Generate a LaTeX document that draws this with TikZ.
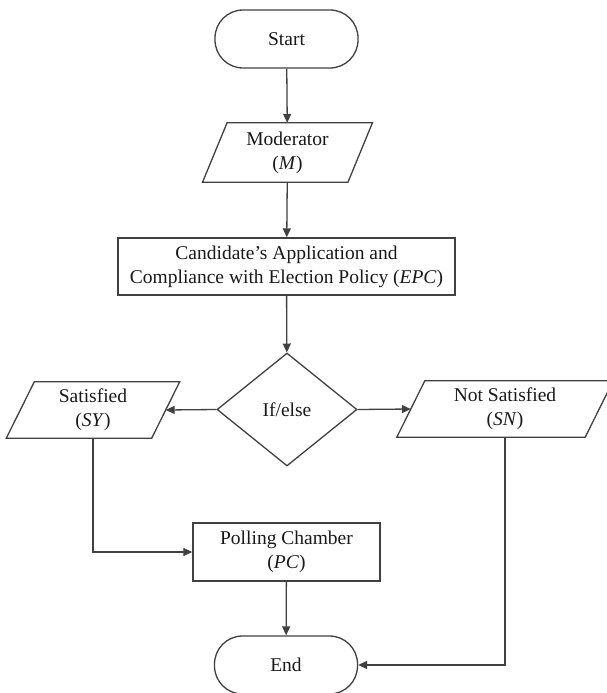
\documentclass[tikz,border=0pt]{standalone}
\usepackage{fontspec}
\setmainfont{Liberation Serif}
\usetikzlibrary{shapes.geometric,arrows.meta,calc}
\begin{document}
\begin{tikzpicture}[x=1pt,y=-1pt,
  shapeline/.style={draw=black!75,line width=1.3pt},
  basebox/.style={inner sep=0pt,align=center,font=\fontsize{19.5}{24}\selectfont,text=black!90},
  termbox/.style={basebox,shapeline,rounded corners=28pt,minimum width=143pt,minimum height=58pt},
  procbox/.style={basebox,shapeline},
  iobox/.style={basebox,draw=none},
  decbox/.style={basebox,shapeline,diamond,minimum width=140pt,minimum height=113pt},
  flow/.style={draw=black!75,line width=1.3pt,-{Triangle[length=9pt,width=8pt]}}]
\useasboundingbox (0,0) rectangle (606,693);
\newcommand\parabox[2]{\draw[shapeline] ($(#1.north west)+(#2,0)$) -- ($(#1.north east)+(#2,0)$) -- ($(#1.south east)-(#2,0)$) -- ($(#1.south west)-(#2,0)$) -- cycle;}
\node[termbox] (start) at (286.5,39) {Start};
\node[iobox,minimum width=145pt,minimum height=59pt] (mod) at (287.5,152.5) {Moderator\\(\textit{M})};
\parabox{mod}{12.25}
\node[procbox,minimum width=337pt,minimum height=57pt] (epc) at (286.5,266.5) {Candidate's Application and\\Compliance with Election Policy (\textit{EPC})};
\node[decbox] (dia) at (287,409.5) {If/else};
\node[iobox,minimum width=145pt,minimum height=56pt] (sy) at (93,410) {Satisfied\\(\textit{SY})};
\parabox{sy}{14}
\node[iobox,minimum width=188pt,minimum height=56pt] (sn) at (505,409) {Not Satisfied\\(\textit{SN})};
\parabox{sn}{14}
\node[procbox,minimum width=187pt,minimum height=58pt] (pc) at (286.5,552) {Polling Chamber\\(\textit{PC})};
\node[termbox] (end) at (286,665) {End};
\draw[flow] (start) -- (mod);
\draw[flow] (mod) -- (epc);
\draw[flow] (epc) -- (dia);
\draw[flow] (dia.west) -- (sy.east);
\draw[flow] (dia.east) -- (sn.west);
\draw[flow] (sy.south) |- (pc.west);
\draw[flow] (pc) -- (end);
\draw[flow] (sn.south) |- (end.east);
\end{tikzpicture}
\end{document}
